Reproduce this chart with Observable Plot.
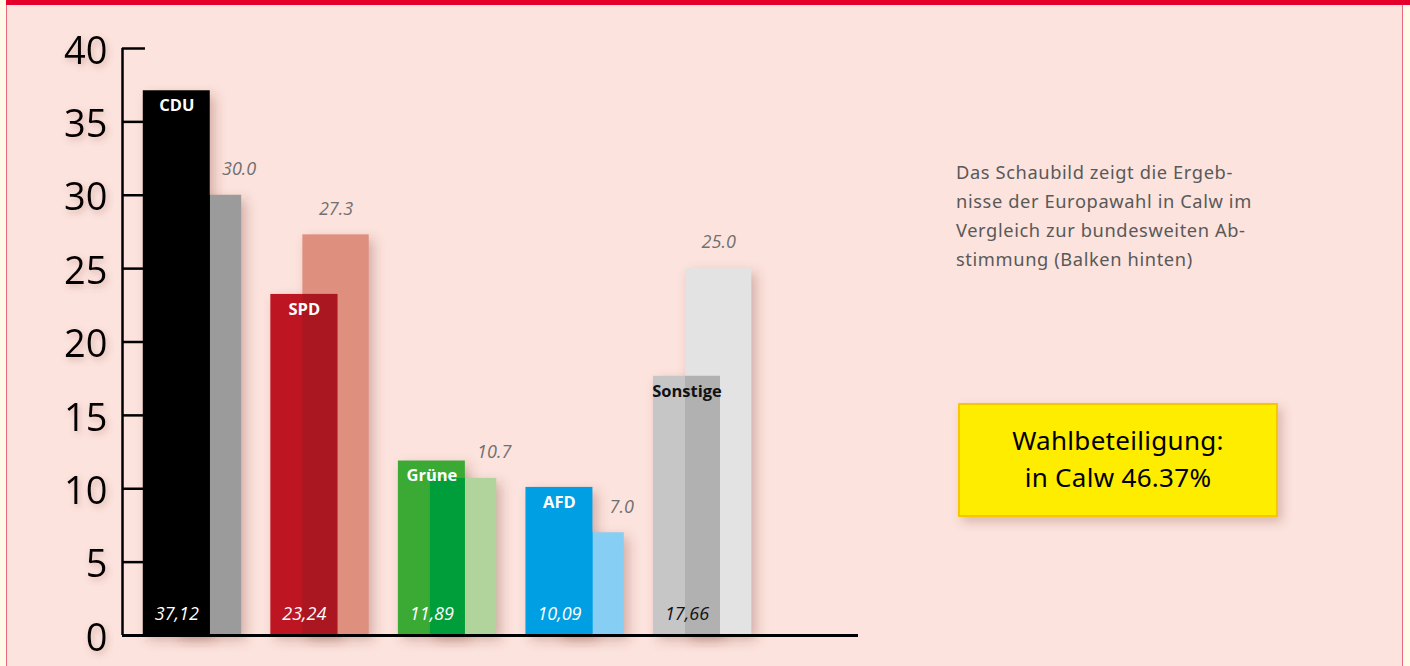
<!DOCTYPE html>
<html>
<head>
<meta charset="utf-8">
<script src="https://cdn.jsdelivr.net/npm/d3@7"></script>
<script src="https://cdn.jsdelivr.net/npm/@observablehq/plot@0.6"></script>
<style>
  html, body { margin: 0; padding: 0; }
  body { width: 1410px; height: 666px; overflow: hidden; background: #fffbe8; font-family: "Open Sans", sans-serif; }
  #page { position: absolute; left: 6px; top: 0; width: 1397px; height: 666px; background: #fce3dd;
          border-left: 1px solid #ec6a80; border-right: 1px solid #ec6a80; box-sizing: border-box; }
  #topbar { position: absolute; left: 6px; top: 0; width: 1404px; height: 5px; background: #e4002b; }
  #chart { position: absolute; left: 0; top: 0; }
  #note { position: absolute; left: 956px; top: 157px; font-family: "Noto Sans", sans-serif; font-size: 18.3px;
          line-height: 29px; color: #595959; letter-spacing: 0.6px; }
  #box { position: absolute; left: 958px; top: 403px; width: 320px; height: 114px; box-sizing: border-box;
         background: #ffed00; border: 2px solid #f7c600; box-shadow: 4px 5px 10px rgba(140,80,70,0.3);
         text-align: center; font-family: "Noto Sans", sans-serif; font-size: 26px; line-height: 37px; color: #000;
         padding-top: 17px; letter-spacing: 0.3px; }
</style>
</head>
<body>
<div id="page"></div>
<div id="topbar"></div>
<div id="chart"></div>
<div id="note">Das Schaubild zeigt die Ergeb-<br>nisse der Europawahl in Calw im<br>Vergleich zur bundesweiten Ab-<br>stimmung (Balken hinten)</div>
<div id="box">Wahlbeteiligung:<br>in Calw 46.37%</div>
<script>
// ---- data ----
const parties = ["CDU", "SPD", "Grüne", "AFD", "Sonstige"];
const calw = [37.12, 23.24, 11.89, 10.09, 17.66];      // front bars (Calw)
const bund = [30.0, 27.3, 10.7, 7.0, 25.0];            // back bars (bundesweit)
const yTicks = [0, 5, 10, 15, 20, 25, 30, 35, 40];

// ---- styles ----
const frontColors   = ["#000000", "#be1522", "#3aaa35", "#009fe3", "#c6c6c6"];
const overlapColors = ["#000000", "#aa1720", "#009e3a", "#009fe3", "#b1b1b1"];
const backColors    = ["#9b9b9b", "#de8f7e", "#b1d49c", "#87cef5", "#e3e3e3"];
const textColors    = ["#ffffff", "#ffffff", "#ffffff", "#ffffff", "#111111"];

// geometry (in party-slot units)
const F1 = 0.163, F2 = 0.688;   // front bar
const B1 = 0.414, B2 = 0.934;   // back bar

const rows = parties.map((p, i) => ({
  party: p, i, calw: calw[i], bund: bund[i],
  front: frontColors[i], overlap: overlapColors[i], back: backColors[i], tc: textColors[i]
}));

const fmtFront = v => v.toFixed(2).replace(".", ",");
const fmtBack = v => v.toFixed(1);

const chart = Plot.plot({
  width: 1410,
  height: 666,
  marginLeft: 122,
  marginRight: 552,
  marginTop: 48,
  marginBottom: 31,
  x: {domain: [0, 5.77], axis: null},
  y: {domain: [0, 40], axis: null},
  style: {background: "transparent", fontFamily: "Open Sans, sans-serif", overflow: "visible"},
  marks: [
    // soft shadows (rect groups #0 and #1)
    Plot.rect(rows, {x1: d => d.i + B1, x2: d => d.i + B2, y1: 0, y2: "bund",
      fill: "#7a3a30", fillOpacity: 0.3, dx: 5, dy: 5}),
    Plot.rect(rows, {x1: d => d.i + F1, x2: d => d.i + F2, y1: 0, y2: "calw",
      fill: "#7a3a30", fillOpacity: 0.3, dx: 5, dy: 5}),
    // tick marks
    Plot.ruleY(yTicks.filter(t => t > 0), {x1: 0, x2: 0.18, stroke: "#000", strokeWidth: 2.5}),
    // back bars
    Plot.rect(rows, {x1: d => d.i + B1, x2: d => d.i + B2, y1: 0, y2: "bund", fill: d => d.back}),
    // front bars
    Plot.rect(rows, {x1: d => d.i + F1, x2: d => d.i + F2, y1: 0, y2: "calw", fill: d => d.front}),
    // overlap region
    Plot.rect(rows, {x1: d => d.i + B1, x2: d => d.i + F2, y1: 0, y2: d => Math.min(d.calw, d.bund), fill: d => d.overlap}),
    // axis lines
    Plot.ruleX([0], {y1: 0, y2: 40, stroke: "#000", strokeWidth: 2.5}),
    Plot.ruleY([0], {x1: 0, x2: 5.77, stroke: "#000", strokeWidth: 3}),
    // y tick labels (text group #0)
    Plot.text(yTicks, {x: 0, y: d => d, text: d => String(d), textAnchor: "end", dx: -15, dy: 3,
      fontSize: 38, fill: "#000"}),
    // party names
    Plot.text(rows, {x: d => d.i + (F1 + F2) / 2, y: "calw", text: "party", dy: 15, lineAnchor: "middle",
      fontSize: 16.5, fontWeight: "bold", fill: d => d.tc}),
    // Calw values
    Plot.text(rows, {x: d => d.i + (F1 + F2) / 2, y: 0, text: d => fmtFront(d.calw), dy: -21, lineAnchor: "middle",
      fontSize: 18, fontStyle: "italic", fill: d => d.tc}),
    // national values
    Plot.text(rows, {x: d => d.bund < d.calw ? d.i + B2 - 0.02 : d.i + (B1 + B2) / 2, y: "bund",
      text: d => fmtBack(d.bund), dy: -26, lineAnchor: "middle",
      fontSize: 18, fontStyle: "italic", fill: "#707070"})
  ]
});

// SVG filters for soft shadows
const svg = d3.select(chart);
const defs = svg.insert("defs", ":first-child");
defs.append("filter").attr("id", "softblur").attr("x", "-50%").attr("y", "-50%").attr("width", "200%").attr("height", "200%")
  .append("feGaussianBlur").attr("stdDeviation", 6);
const ds = defs.append("filter").attr("id", "textshadow").attr("x", "-50%").attr("y", "-50%").attr("width", "200%").attr("height", "200%");
ds.append("feDropShadow").attr("dx", 2).attr("dy", 3).attr("stdDeviation", 3)
  .attr("flood-color", "#96574f").attr("flood-opacity", 0.35);
const rectGroups = chart.querySelectorAll('g[aria-label="rect"]');
if (rectGroups.length >= 2) {
  rectGroups[0].setAttribute("filter", "url(#softblur)");
  rectGroups[1].setAttribute("filter", "url(#softblur)");
}
const textGroups = chart.querySelectorAll('g[aria-label="text"]');
if (textGroups.length >= 1) textGroups[0].setAttribute("filter", "url(#textshadow)");

document.getElementById("chart").appendChild(chart);
</script>
</body>
</html>
